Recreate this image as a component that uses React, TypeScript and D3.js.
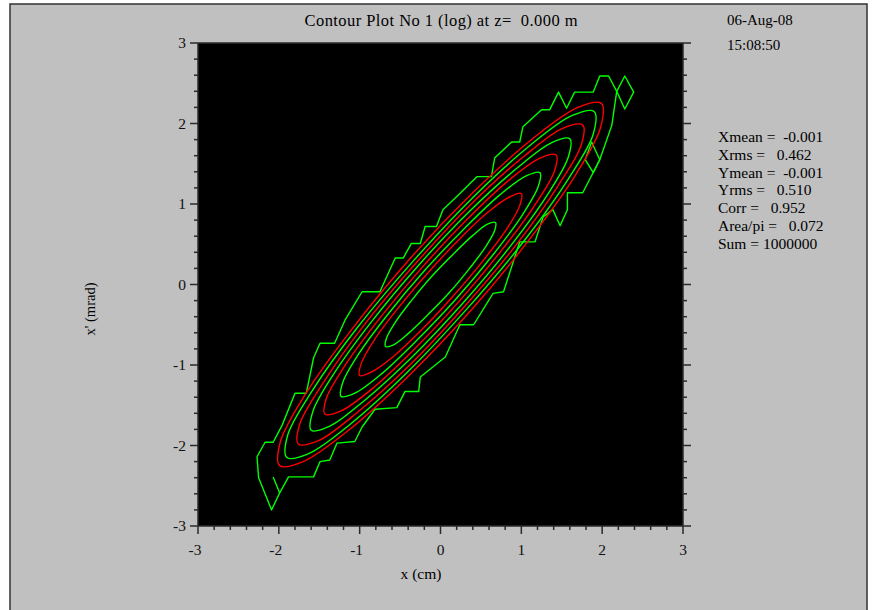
import { scaleLinear, line, curveCatmullRomClosed, curveLinearClosed, curveLinear } from "d3";

const width = 872;
const height = 610;
const PLOT = { left: 198, right: 683, top: 43, bottom: 526 };

const xTicks = [-3, -2, -1, 0, 1, 2, 3];
const yTicks = [-3, -2, -1, 0, 1, 2, 3];

const titleText = "Contour Plot No 1 (log) at z=  0.000 m";
const dateText = "06-Aug-08";
const timeText = "15:08:50";
const statLines = [
  "Xmean =  -0.001",
  "Xrms =   0.462",
  "Ymean =  -0.001",
  "Yrms =   0.510",
  "Corr =   0.952",
  "Area/pi =   0.072",
  "Sum = 1000000",
];

// contour rings, inner to outer (x in cm, x' in mrad)
const green1 = [[0.68,0.77],[0.58,0.75],[0.40,0.61],[0.16,0.38],[-0.11,0.10],[-0.36,-0.20],[-0.56,-0.47],[-0.67,-0.67],[-0.68,-0.77],[-0.58,-0.75],[-0.40,-0.61],[-0.16,-0.38],[0.11,-0.10],[0.36,0.20],[0.56,0.47],[0.67,0.67]];
const red1 = [[1.00,1.13],[0.86,1.09],[0.59,0.90],[0.23,0.56],[-0.16,0.14],[-0.53,-0.30],[-0.82,-0.69],[-0.98,-0.98],[-1.00,-1.13],[-0.86,-1.09],[-0.59,-0.90],[-0.23,-0.56],[0.16,-0.14],[0.53,0.30],[0.82,0.69],[0.98,0.98]];
const green2 = [[1.23,1.39],[1.06,1.35],[0.73,1.11],[0.29,0.69],[-0.20,0.17],[-0.65,-0.37],[-1.01,-0.86],[-1.21,-1.22],[-1.23,-1.39],[-1.06,-1.35],[-0.73,-1.11],[-0.29,-0.69],[0.20,-0.17],[0.65,0.37],[1.01,0.86],[1.21,1.22]];
const red2 = [[1.43,1.61],[1.23,1.57],[0.84,1.29],[0.33,0.81],[-0.23,0.21],[-0.76,-0.43],[-1.17,-0.99],[-1.41,-1.41],[-1.43,-1.61],[-1.23,-1.57],[-0.84,-1.29],[-0.33,-0.81],[0.23,-0.21],[0.76,0.43],[1.17,0.99],[1.41,1.41]];
const green3 = [[1.60,1.81],[1.37,1.76],[0.94,1.44],[0.36,0.91],[-0.27,0.24],[-0.86,-0.47],[-1.32,-1.11],[-1.58,-1.58],[-1.60,-1.81],[-1.37,-1.76],[-0.94,-1.44],[-0.36,-0.91],[0.27,-0.24],[0.86,0.47],[1.32,1.11],[1.58,1.58]];
const red3 = [[1.76,1.98],[1.51,1.94],[1.03,1.59],[0.39,1.01],[-0.30,0.27],[-0.95,-0.51],[-1.45,-1.22],[-1.74,-1.73],[-1.76,-1.98],[-1.51,-1.94],[-1.03,-1.59],[-0.39,-1.01],[0.30,-0.27],[0.95,0.51],[1.45,1.22],[1.74,1.73]];
const green4 = [[1.90,2.15],[1.63,2.10],[1.11,1.73],[0.42,1.10],[-0.33,0.30],[-1.04,-0.55],[-1.58,-1.31],[-1.89,-1.87],[-1.90,-2.15],[-1.63,-2.10],[-1.11,-1.73],[-0.42,-1.10],[0.33,-0.30],[1.04,0.55],[1.58,1.31],[1.89,1.87]];
const red4 = [[1.99,2.25],[1.70,2.20],[1.15,1.82],[0.42,1.16],[-0.37,0.33],[-1.10,-0.56],[-1.67,-1.36],[-1.98,-1.95],[-1.99,-2.25],[-1.70,-2.20],[-1.15,-1.82],[-0.42,-1.16],[0.37,-0.33],[1.10,0.56],[1.67,1.36],[1.98,1.95]];

// outermost (coarse, stepped) green contour
const green5 = [
  [-2.09,-2.80],[-2.25,-2.40],[-2.27,-2.14],[-2.17,-1.96],[-2.07,-1.96],[-1.96,-1.75],[-1.80,-1.35],[-1.66,-1.35],
  [-1.57,-0.91],[-1.49,-0.73],[-1.31,-0.73],[-1.18,-0.44],[-0.97,-0.09],[-0.75,-0.09],[-0.56,0.33],[-0.46,0.33],
  [-0.36,0.51],[-0.25,0.51],[-0.19,0.72],[-0.05,0.72],[0.03,0.93],[0.24,1.13],[0.45,1.34],[0.63,1.34],
  [0.67,1.57],[0.88,1.77],[0.98,1.77],[1.02,1.96],[1.25,2.17],[1.35,2.17],[1.46,2.39],[1.56,2.19],
  [1.66,2.39],[1.89,2.39],[1.97,2.59],[2.08,2.59],[2.18,2.40],[2.12,1.98],[1.97,1.55],[1.76,1.14],
  [1.57,1.14],[1.57,0.93],[1.48,0.73],[1.39,0.93],[1.27,0.84],[1.17,0.53],[0.98,0.53],[0.78,-0.09],
  [0.65,-0.11],[0.41,-0.50],[0.24,-0.50],[0.06,-0.90],[-0.25,-1.15],[-0.27,-1.33],[-0.44,-1.33],[-0.54,-1.53],
  [-0.81,-1.55],[-0.97,-1.77],[-1.06,-1.95],[-1.28,-1.97],[-1.37,-2.18],[-1.49,-2.20],[-1.57,-2.39],[-1.88,-2.39],
  [-1.99,-2.59],
];
const greenIsland1 = [[2.18,2.40],[2.28,2.59],[2.39,2.39],[2.28,2.18]];
const greenIsland2 = [[1.79,1.55],[1.87,1.77],[1.97,1.55],[1.89,1.39]];
const greenSpur = [[-2.07,-2.39],[-1.99,-2.59]];

const GREEN = "#00ff00";
const RED = "#ff0000";
const FONT = "'Liberation Serif', 'DejaVu Serif', serif";

export default function App() {
  const x = scaleLinear().domain([-3, 3]).range([PLOT.left, PLOT.right]);
  const y = scaleLinear().domain([-3, 3]).range([PLOT.bottom, PLOT.top]);

  const smooth = line<number[]>().x((d) => x(d[0])).y((d) => y(d[1])).curve(curveCatmullRomClosed);
  const closed = line<number[]>().x((d) => x(d[0])).y((d) => y(d[1])).curve(curveLinearClosed);
  const open = line<number[]>().x((d) => x(d[0])).y((d) => y(d[1])).curve(curveLinear);

  const rings: [number[][], string][] = [
    [red4, RED], [green4, GREEN], [red3, RED], [green3, GREEN],
    [red2, RED], [green2, GREEN], [red1, RED], [green1, GREEN],
  ];

  const minor = x.ticks(30);
  const axisColor = "#2a2a2a";

  return (
    <svg width={width} height={height} style={{ position: "absolute", left: 0, top: 0 }} fontFamily={FONT}>
      <rect x={0} y={0} width={width} height={height} fill="#ffffff" />
      <rect x={10} y={4} width={857} height={640} fill="#c0c0c0" stroke="#333" strokeWidth={1.5} />

      <text x={441} y={26} fontSize={16.5} textAnchor="middle" textLength={273} lengthAdjust="spacing" style={{ whiteSpace: "pre" }}>
        {titleText}
      </text>
      <text x={727} y={25} fontSize={15}>{dateText}</text>
      <text x={727} y={50} fontSize={15}>{timeText}</text>

      {statLines.map((s, i) => (
        <text key={i} x={718} y={142 + i * 17.8} fontSize={15.5} style={{ whiteSpace: "pre" }}>
          {s}
        </text>
      ))}

      <defs>
        <clipPath id="plotClip">
          <rect x={PLOT.left} y={PLOT.top} width={PLOT.right - PLOT.left} height={PLOT.bottom - PLOT.top} />
        </clipPath>
      </defs>
      <rect x={PLOT.left} y={PLOT.top} width={PLOT.right - PLOT.left} height={PLOT.bottom - PLOT.top} fill="#000" />

      <g clipPath="url(#plotClip)" fill="none" strokeWidth={1.4} strokeLinejoin="round">
        <path d={closed(green5) || ""} stroke={GREEN} />
        <path d={closed(greenIsland1) || ""} stroke={GREEN} />
        <path d={closed(greenIsland2) || ""} stroke={GREEN} />
        <path d={open(greenSpur) || ""} stroke={GREEN} />
        {rings.map(([pts, c], i) => (
          <path key={i} d={smooth(pts) || ""} stroke={c} />
        ))}
      </g>

      {/* frame */}
      <g stroke={axisColor} strokeWidth={1.5}>
        <line x1={PLOT.left} x2={PLOT.left} y1={PLOT.top} y2={PLOT.bottom} />
        <line x1={PLOT.right} x2={PLOT.right} y1={PLOT.top} y2={PLOT.bottom} />
        <line x1={PLOT.left} x2={PLOT.right} y1={PLOT.top} y2={PLOT.top} />
        <line x1={PLOT.left} x2={PLOT.right} y1={PLOT.bottom} y2={PLOT.bottom} />
        {minor.map((t, i) => {
          const isMajor = Math.abs(t - Math.round(t)) < 1e-6;
          const len = isMajor ? 8 : 4;
          return (
            <g key={i}>
              <line x1={x(t)} x2={x(t)} y1={PLOT.bottom} y2={PLOT.bottom + len} />
              <line x1={PLOT.left - len} x2={PLOT.left} y1={y(t)} y2={y(t)} />
              <line x1={PLOT.right} x2={PLOT.right + len} y1={y(t)} y2={y(t)} />
            </g>
          );
        })}
      </g>

      {xTicks.map((t) => (
        <text key={t} x={x(t) - (t < 0 ? 3 : 0)} y={555} textAnchor="middle" fontSize={15.5} fill="#111">
          {t}
        </text>
      ))}
      {yTicks.map((t) => (
        <text key={t} x={186} y={y(t) + 5} textAnchor="end" fontSize={15.5} fill="#111">
          {t}
        </text>
      ))}

      <text x={421} y={579} textAnchor="middle" fontSize={15.5}>x (cm)</text>
      <text transform={`translate(95, 309) rotate(-90)`} textAnchor="middle" fontSize={14.5}>
        x' (mrad)
      </text>
    </svg>
  );
}
